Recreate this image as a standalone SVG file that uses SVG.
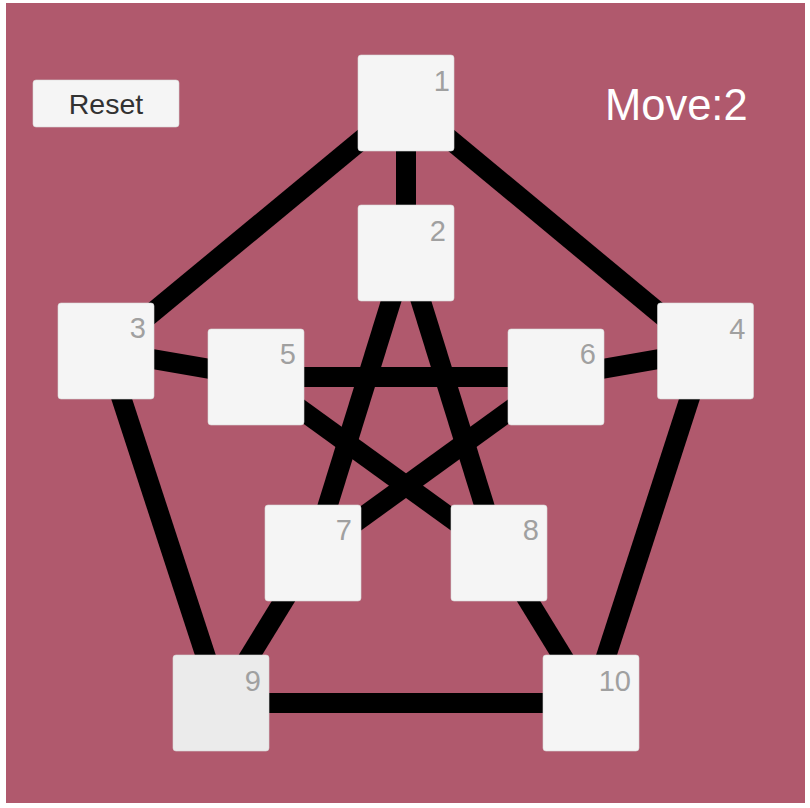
<svg xmlns="http://www.w3.org/2000/svg" width="810" height="808" viewBox="0 0 810 808">
<style>
.node{fill:#F5F5F5;stroke:#D8D8D8;stroke-width:0.6}
.num{font-family:"Liberation Sans",Arial,sans-serif;font-size:29px;fill:#A0A0A0;text-anchor:end}
.edge{stroke:#000;stroke-width:20;stroke-linecap:butt}
</style>
<rect x="0" y="0" width="810" height="808" fill="#FFFFFF"/>
<rect x="6" y="3" width="799" height="800" fill="#B0596D"/>
<g id="connectors">
<line class="edge" x1="406" y1="103" x2="406" y2="253"/>
<line class="edge" x1="406" y1="103" x2="106" y2="351"/>
<line class="edge" x1="406" y1="103" x2="705" y2="351"/>
<line class="edge" x1="106" y1="351" x2="256" y2="377"/>
<line class="edge" x1="705" y1="351" x2="556" y2="377"/>
<line class="edge" x1="106" y1="351" x2="221" y2="703"/>
<line class="edge" x1="705" y1="351" x2="591" y2="703"/>
<line class="edge" x1="221" y1="703" x2="591" y2="703"/>
<line class="edge" x1="256" y1="377" x2="556" y2="377"/>
<line class="edge" x1="256" y1="377" x2="499" y2="553"/>
<line class="edge" x1="556" y1="377" x2="313" y2="553"/>
<line class="edge" x1="406" y1="253" x2="313" y2="553"/>
<line class="edge" x1="406" y1="253" x2="499" y2="553"/>
<line class="edge" x1="313" y1="553" x2="221" y2="703"/>
<line class="edge" x1="499" y1="553" x2="591" y2="703"/>
</g>
<g id="reset">
<rect x="33" y="80" width="146" height="47" rx="3" fill="#F5F5F5" stroke="#D8D8D8" stroke-width="0.6"/>
<text x="106" y="114" font-family="'Liberation Sans',Arial,sans-serif" font-size="28.5" fill="#323232" text-anchor="middle">Reset</text>
</g>
<g id="move">
<text x="605" y="120" font-family="'Liberation Sans',Arial,sans-serif" font-size="43.5" fill="#FFFFFF">Move:2</text>
</g>
<g id="node1"><rect class="node" x="358" y="55" width="96" height="96" rx="3"/><text class="num" x="450" y="91">1</text></g>
<g id="node2"><rect class="node" x="358" y="205" width="96" height="96" rx="3"/><text class="num" x="446" y="241">2</text></g>
<g id="node3"><rect class="node" x="58" y="303" width="96" height="96" rx="3"/><text class="num" x="146" y="338">3</text></g>
<g id="node4"><rect class="node" x="657.5" y="303" width="96" height="96" rx="3"/><text class="num" x="745.5" y="338.5">4</text></g>
<g id="node5"><rect class="node" x="208" y="329" width="96" height="96" rx="3"/><text class="num" x="296" y="364">5</text></g>
<g id="node6"><rect class="node" x="508" y="329" width="96" height="96" rx="3"/><text class="num" x="596" y="364">6</text></g>
<g id="node7"><rect class="node" x="265" y="505" width="96" height="96" rx="3"/><text class="num" x="352" y="540">7</text></g>
<g id="node8"><rect class="node" x="451" y="505" width="96" height="96" rx="3"/><text class="num" x="539" y="540">8</text></g>
<g id="node9"><rect class="node" x="173" y="655" width="96" height="96" rx="3" style="fill:#EBEBEB"/><text class="num" x="261" y="690.5">9</text></g>
<g id="node10"><rect class="node" x="543" y="655" width="96" height="96" rx="3"/><text class="num" x="631" y="690.5">10</text></g>
</svg>
